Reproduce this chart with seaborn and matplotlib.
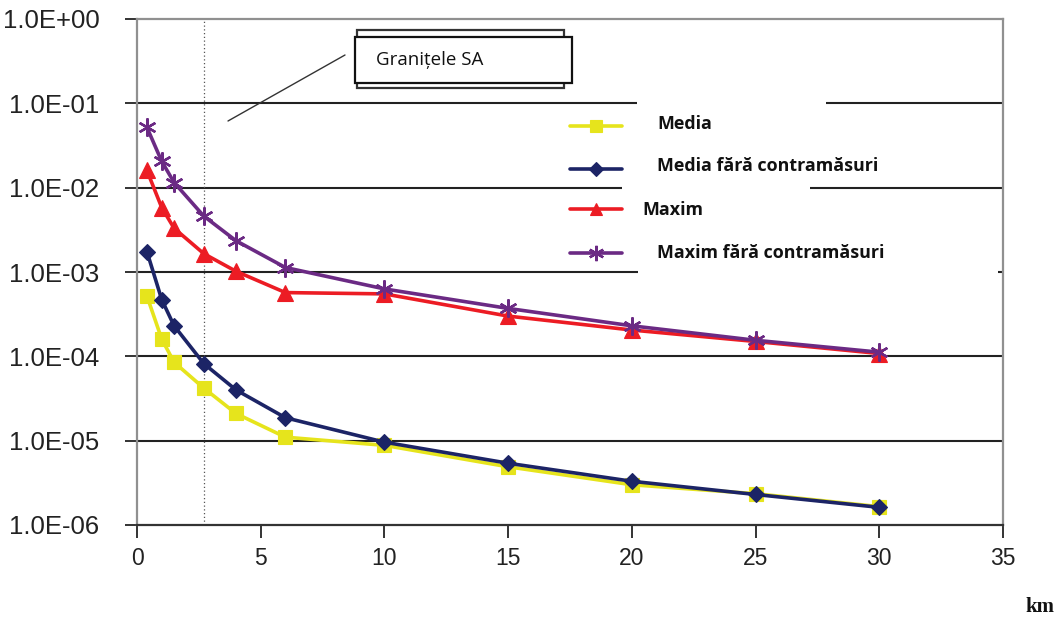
import numpy as np
import pandas as pd
import seaborn as sns
import matplotlib
matplotlib.use("Agg")
import matplotlib.pyplot as plt
from matplotlib.lines import Line2D
from matplotlib.patches import Rectangle
from matplotlib.ticker import FixedLocator, NullLocator

# Distance from the source (km)
distance_km = [0.4, 1, 1.5, 2.7, 4, 6, 10, 15, 20, 25, 30]

# Dose / risk values per scenario
media = [5.2e-4, 1.6e-4, 8.5e-5, 4.2e-5, 2.1e-5, 1.1e-5, 8.8e-6, 4.9e-6, 3.0e-6, 2.35e-6, 1.65e-6]
media_fara = [1.75e-3, 4.7e-4, 2.3e-4, 8.2e-5, 4.0e-5, 1.87e-5, 9.6e-6, 5.4e-6, 3.3e-6, 2.3e-6, 1.62e-6]
maxim = [1.6e-2, 5.8e-3, 3.3e-3, 1.65e-3, 1.02e-3, 5.7e-4, 5.5e-4, 3.0e-4, 2.05e-4, 1.5e-4, 1.08e-4]
maxim_fara = [5.2e-2, 2.05e-2, 1.15e-2, 4.6e-3, 2.35e-3, 1.13e-3, 6.3e-4, 3.7e-4, 2.3e-4, 1.55e-4, 1.12e-4]

series_labels = ["Media", "Media fără contramăsuri", "Maxim", "Maxim fără contramăsuri"]
y_tick_values = [1e0, 1e-1, 1e-2, 1e-3, 1e-4, 1e-5, 1e-6]
y_tick_labels = ["1.0E+00", "1.0E-01", "1.0E-02", "1.0E-03", "1.0E-04", "1.0E-05", "1.0E-06"]
x_tick_values = [0, 5, 10, 15, 20, 25, 30, 35]
boundary_km = 2.7
annotation_text = "Granițele SA"
x_unit = "km"

W, H = 1060, 623
sns.set_theme(style="white")
plt.rcParams["font.family"] = ["Liberation Sans", "DejaVu Sans"]

fig = plt.figure(figsize=(W / 100, H / 100), dpi=100)


def fx(px):
    return px / W


def fy(py):
    return 1 - py / H


ax = fig.add_axes([fx(137), fy(525), fx(1003) - fx(137), fy(19) - fy(525)])

asterisk = (6, 2, 0)
styles = [
    dict(color="#e6e41c", marker="s", ms=10, mec="#e6e41c"),
    dict(color="#1c2466", marker="D", ms=8.5, mec="#1c2466"),
    dict(color="#ec1c24", marker="^", ms=11, mec="#ec1c24"),
    dict(color="#6b2a84", marker=asterisk, ms=13, mec="#6b2a84", mew=1.7),
]

frames = []
for lab, vals in zip(series_labels, [media, media_fara, maxim, maxim_fara]):
    frames.append(pd.DataFrame({"km": distance_km, "val": vals, "serie": lab}))
df = pd.concat(frames, ignore_index=True)

draw_order = [0, 1, 3, 2]
for i in draw_order:
    st = styles[i]
    sub = df[df["serie"] == series_labels[i]]
    sns.lineplot(data=sub, x="km", y="val", ax=ax, color=st["color"], lw=2.6,
                 marker=st["marker"], markersize=st["ms"], markeredgecolor=st["mec"],
                 markeredgewidth=st.get("mew", 0.8), legend=False, zorder=3 + i,
                 estimator=None, sort=False)

ax.set_yscale("log")
ax.set_ylim(1e-6, 1e0)
ax.set_xlim(0, 35)
ax.yaxis.set_major_locator(FixedLocator(y_tick_values))
ax.yaxis.set_minor_locator(NullLocator())
ax.set_yticklabels(y_tick_labels)
ax.set_xticks(x_tick_values)
ax.set_xticklabels([str(v) for v in x_tick_values])
ax.set_xlabel("")
ax.set_ylabel("")

# Horizontal decade grid lines
for v in y_tick_values[1:-1]:
    ax.axhline(v, color="#222222", lw=1.5, zorder=1)

# Border of the site
ax.axvline(boundary_km, color="#555555", lw=0.9, ls=(0, (1, 2)), zorder=2)

for side in ["left", "top", "right"]:
    ax.spines[side].set_color("#909090")
    ax.spines[side].set_linewidth(1.6)
ax.spines["bottom"].set_color("#333333")
ax.spines["bottom"].set_linewidth(1.6)

ax.tick_params(axis="y", which="major", direction="out", length=9, width=1.4,
               color="#333333", labelsize=18.5, pad=18, left=True, labelcolor="#222222")
ax.tick_params(axis="x", which="major", direction="out", length=9, width=1.4,
               color="#333333", labelsize=16.5, pad=7, bottom=True, labelcolor="#222222")

# White panels behind the legend labels
for (x0, y0, x1, y1) in [(637, 96, 826, 150), (622, 180, 810, 228), (638, 236, 998, 282)]:
    fig.add_artist(Rectangle((fx(x0), fy(y1)), fx(x1) - fx(x0), fy(y0) - fy(y1),
                             transform=fig.transFigure, facecolor="white",
                             edgecolor="none", zorder=10))

# Legend samples and labels
sample_y = [126, 169, 209, 253]
label_x = [657, 657, 642, 657]
label_y = [124, 166, 210, 253]
for i in range(4):
    st = styles[i]
    fig.add_artist(Line2D([fx(570), fx(596), fx(622)], [fy(sample_y[i])] * 3,
                          transform=fig.transFigure, color=st["color"], lw=2.6,
                          marker=st["marker"], markevery=[1], markersize=st["ms"] * 0.85,
                          markeredgecolor=st["mec"], markeredgewidth=st.get("mew", 0.8),
                          zorder=11))
    fig.text(fx(label_x[i]), fy(label_y[i]), series_labels[i], fontsize=12.9,
             fontweight="bold", family=["Open Sans", "DejaVu Sans"], color="#111111",
             ha="left", va="center", zorder=12)

# Callout box for the site border
fig.add_artist(Line2D([fx(228), fx(345)], [fy(121), fy(55)], transform=fig.transFigure,
                      color="#333333", lw=1.0, zorder=11))
fig.add_artist(Rectangle((fx(357), fy(88)), fx(564) - fx(357), fy(30) - fy(88),
                         transform=fig.transFigure, facecolor="white",
                         edgecolor="#333333", lw=1.6, zorder=12))
fig.add_artist(Rectangle((fx(355), fy(83)), fx(572) - fx(355), fy(37) - fy(83),
                         transform=fig.transFigure, facecolor="white",
                         edgecolor="#111111", lw=1.6, zorder=13))
fig.text(fx(376), fy(60), annotation_text, fontsize=13.5, family=["Open Sans", "DejaVu Sans"],
         color="#111111", ha="left", va="center", zorder=14)

fig.text(fx(1040), fy(607), x_unit, fontsize=15, fontweight="bold",
         family=["Liberation Serif", "DejaVu Serif"], color="#111111",
         ha="center", va="center")

fig.savefig("out.png", dpi=100, facecolor="white")
